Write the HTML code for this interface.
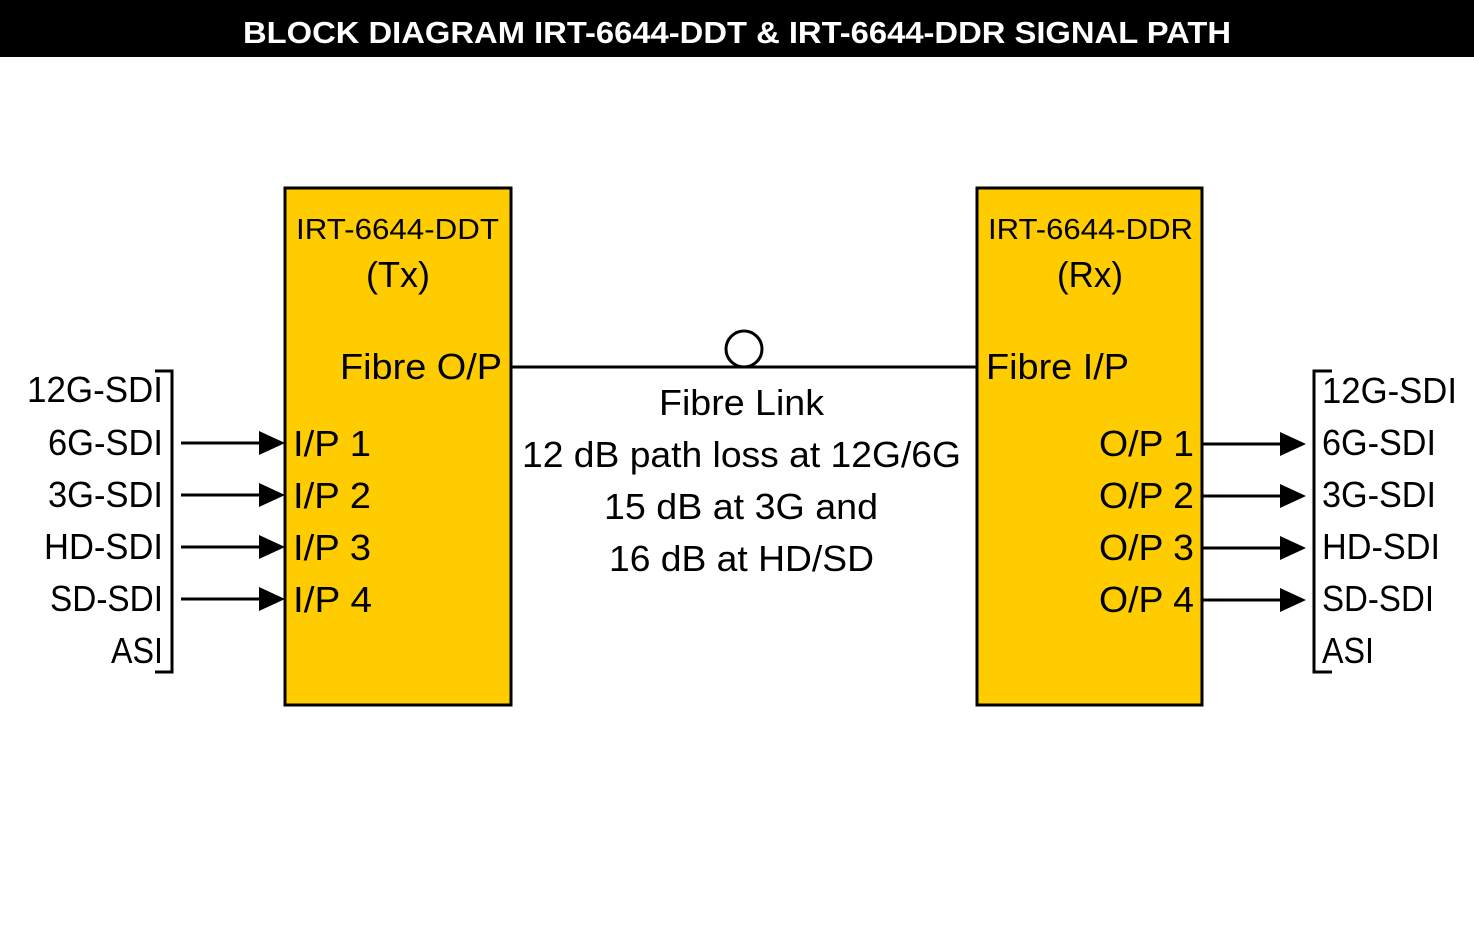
<!DOCTYPE html>
<html><head><meta charset="utf-8"><style>
html,body{margin:0;padding:0;background:#fff;}
svg{display:block;}
text{font-family:"Liberation Sans",sans-serif;fill:#000;}
</style></head><body>
<svg width="1474" height="930" viewBox="0 0 1474 930" xmlns="http://www.w3.org/2000/svg">
<rect x="0" y="0" width="1474" height="57" fill="#000"/>
<text x="243" y="43" font-size="31" font-weight="bold" style="fill:#fff" textLength="988" lengthAdjust="spacingAndGlyphs">BLOCK DIAGRAM IRT-6644-DDT &amp; IRT-6644-DDR SIGNAL PATH</text>

<rect x="285" y="188" width="226" height="517" fill="#FFCC00" stroke="#000" stroke-width="3"/>
<rect x="977" y="188" width="225" height="517" fill="#FFCC00" stroke="#000" stroke-width="3"/>

<g font-size="29">
<text x="296" y="239" textLength="203" lengthAdjust="spacingAndGlyphs">IRT-6644-DDT</text>
<text x="988" y="239" textLength="205" lengthAdjust="spacingAndGlyphs">IRT-6644-DDR</text>
</g>
<g font-size="36">
<text x="366" y="287" textLength="64" lengthAdjust="spacingAndGlyphs">(Tx)</text>
<text x="1057" y="287" textLength="66" lengthAdjust="spacingAndGlyphs">(Rx)</text>
<text x="340" y="379" textLength="162" lengthAdjust="spacingAndGlyphs">Fibre O/P</text>
<text x="986" y="379" textLength="143" lengthAdjust="spacingAndGlyphs">Fibre I/P</text>
<text x="659" y="415" textLength="165" lengthAdjust="spacingAndGlyphs">Fibre Link</text>
<text x="522" y="467" textLength="439" lengthAdjust="spacingAndGlyphs">12 dB path loss at 12G/6G</text>
<text x="604" y="519" textLength="274" lengthAdjust="spacingAndGlyphs">15 dB at 3G and</text>
<text x="609" y="571" textLength="265" lengthAdjust="spacingAndGlyphs">16 dB at HD/SD</text>

<text x="27" y="402" textLength="136" lengthAdjust="spacingAndGlyphs">12G-SDI</text>
<text x="48" y="455" textLength="115" lengthAdjust="spacingAndGlyphs">6G-SDI</text>
<text x="48" y="507" textLength="115" lengthAdjust="spacingAndGlyphs">3G-SDI</text>
<text x="44" y="559" textLength="119" lengthAdjust="spacingAndGlyphs">HD-SDI</text>
<text x="50" y="611" textLength="113" lengthAdjust="spacingAndGlyphs">SD-SDI</text>
<text x="111" y="663" textLength="52" lengthAdjust="spacingAndGlyphs">ASI</text>

<text x="293" y="456" textLength="78" lengthAdjust="spacingAndGlyphs">I/P 1</text>
<text x="293" y="508" textLength="78" lengthAdjust="spacingAndGlyphs">I/P 2</text>
<text x="293" y="560" textLength="78" lengthAdjust="spacingAndGlyphs">I/P 3</text>
<text x="293" y="612" textLength="79" lengthAdjust="spacingAndGlyphs">I/P 4</text>

<text x="1099" y="456" textLength="95" lengthAdjust="spacingAndGlyphs">O/P 1</text>
<text x="1099" y="508" textLength="95" lengthAdjust="spacingAndGlyphs">O/P 2</text>
<text x="1099" y="560" textLength="95" lengthAdjust="spacingAndGlyphs">O/P 3</text>
<text x="1099" y="612" textLength="95" lengthAdjust="spacingAndGlyphs">O/P 4</text>

<text x="1322" y="403" textLength="135" lengthAdjust="spacingAndGlyphs">12G-SDI</text>
<text x="1322" y="455" textLength="114" lengthAdjust="spacingAndGlyphs">6G-SDI</text>
<text x="1322" y="507" textLength="114" lengthAdjust="spacingAndGlyphs">3G-SDI</text>
<text x="1322" y="559" textLength="118" lengthAdjust="spacingAndGlyphs">HD-SDI</text>
<text x="1322" y="611" textLength="112" lengthAdjust="spacingAndGlyphs">SD-SDI</text>
<text x="1322" y="663" textLength="52" lengthAdjust="spacingAndGlyphs">ASI</text>
</g>

<line x1="511" y1="367" x2="977" y2="367" stroke="#000" stroke-width="3"/>
<circle cx="744" cy="349" r="18" fill="#fff" stroke="#000" stroke-width="3"/>

<g stroke="#000" stroke-width="3" fill="none">
<polyline points="155,371 172,371 172,672 155,672"/>
<polyline points="1332,371 1314,371 1314,672 1332,672"/>
<line x1="181" y1="443" x2="262" y2="443"/>
<line x1="181" y1="495" x2="262" y2="495"/>
<line x1="181" y1="547" x2="262" y2="547"/>
<line x1="181" y1="599" x2="262" y2="599"/>
<line x1="1202" y1="444" x2="1283" y2="444"/>
<line x1="1202" y1="496" x2="1283" y2="496"/>
<line x1="1202" y1="548" x2="1283" y2="548"/>
<line x1="1202" y1="600" x2="1283" y2="600"/>
</g>
<g fill="#000">
<polygon points="259,431 285,443 259,455"/>
<polygon points="259,483 285,495 259,507"/>
<polygon points="259,535 285,547 259,559"/>
<polygon points="259,587 285,599 259,611"/>
<polygon points="1280,432 1306,444 1280,456"/>
<polygon points="1280,484 1306,496 1280,508"/>
<polygon points="1280,536 1306,548 1280,560"/>
<polygon points="1280,588 1306,600 1280,612"/>
</g>
</svg>
</body></html>
